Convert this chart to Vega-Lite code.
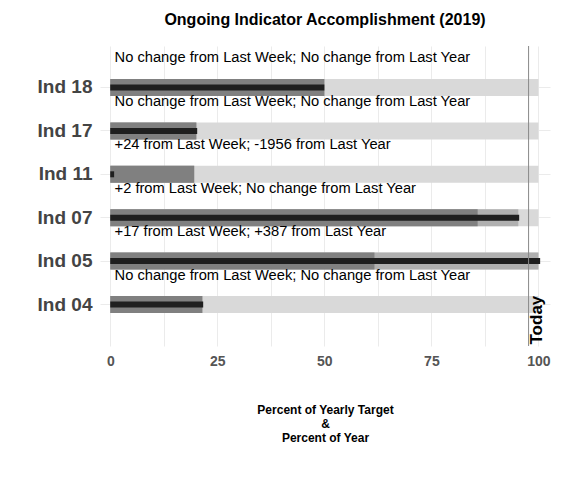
{
  "$schema": "https://vega.github.io/schema/vega-lite/v6.json",
  "width": 450,
  "height": 300,
  "autosize": "none",
  "padding": {"left": 100, "top": 46, "right": 26, "bottom": 134},
  "background": "white",
  "title": {"text": "Ongoing Indicator Accomplishment (2019)", "font": "Liberation Sans", "fontSize": 16, "fontWeight": "bold", "color": "black", "offset": 18, "anchor": "middle"},
  "config": {"view": {"stroke": null}, "font": "Liberation Sans"},
  "data": {"values": [
    {"ind": "Ind 18", "full": 100, "mid": 50, "dark": 50, "black": 50, "note": "No change from Last Week; No change from Last Year"},
    {"ind": "Ind 17", "full": 100, "mid": 20.1, "dark": 20.1, "black": 20.3, "note": "No change from Last Week; No change from Last Year"},
    {"ind": "Ind 11", "full": 100, "mid": 19.6, "dark": 19.6, "black": 0.9, "note": "+24 from Last Week; -1956 from Last Year"},
    {"ind": "Ind 07", "full": 100, "mid": 95.3, "dark": 85.8, "black": 95.5, "note": "+2 from Last Week; No change from Last Year"},
    {"ind": "Ind 05", "full": 100, "mid": 100, "dark": 61.7, "black": 100.4, "note": "+17 from Last Week; +387 from Last Year"},
    {"ind": "Ind 04", "full": 100, "mid": 21.5, "dark": 21.5, "black": 21.7, "note": "No change from Last Week; No change from Last Year"}
  ]},
  "encoding": {
    "y": {"field": "ind", "type": "nominal", "sort": null,
      "scale": {"paddingInner": 0, "paddingOuter": 0.456},
      "axis": {"title": null, "labelFontSize": 19, "labelFontWeight": "bold", "labelColor": "#444444", "ticks": false, "domain": false, "labelPadding": 8, "grid": true, "gridColor": "#ebebeb", "bandPosition": 0.5}}
  },
  "layer": [
    {"mark": {"type": "bar", "height": 17, "color": "#d9d9d9"},
     "encoding": {"x": {"field": "full", "type": "quantitative",
       "scale": {"domain": [-2.4, 102.7], "nice": false, "zero": false},
       "axis": {"values": [0, 12.5, 25, 37.5, 50, 62.5, 75, 87.5, 100], "labelExpr": "datum.value % 25 == 0 ? datum.label : ''", "labelFontSize": 14, "labelFontWeight": "bold", "labelColor": "#555555", "ticks": false, "domain": false, "gridColor": "#ebebeb", "labelPadding": 8,
         "title": ["Percent of Yearly Target", "&", "Percent of Year"], "titleFontSize": 12, "titleFontWeight": "bold", "titleColor": "black", "titlePadding": 36, "titleLineHeight": 14}}}},
    {"mark": {"type": "bar", "height": 17, "color": "#b0b0b0"},
     "encoding": {"x": {"field": "mid", "type": "quantitative"}}},
    {"mark": {"type": "bar", "height": 17, "color": "#808080"},
     "encoding": {"x": {"field": "dark", "type": "quantitative"}}},
    {"mark": {"type": "bar", "height": 6, "color": "#1f1f1f"},
     "encoding": {"x": {"field": "black", "type": "quantitative"}}},
    {"mark": {"type": "text", "align": "left", "baseline": "middle", "fontSize": 14.7, "color": "black", "yOffset": -29},
     "encoding": {"x": {"datum": 1}, "text": {"field": "note"}}},
    {"data": {"values": [{"ind": "Ind 04", "today": 97.7, "lab": "Today"}]},
     "layer": [
       {"mark": {"type": "rule", "color": "#888888", "strokeWidth": 1},
        "encoding": {"x": {"field": "today", "type": "quantitative"}, "y": null}},
       {"mark": {"type": "text", "angle": 270, "align": "left", "baseline": "top", "fontSize": 17, "fontWeight": "bold", "color": "black", "yOffset": 41, "dx": 1},
        "encoding": {"x": {"field": "today", "type": "quantitative"}, "text": {"field": "lab"}}}
     ]}
  ]
}
